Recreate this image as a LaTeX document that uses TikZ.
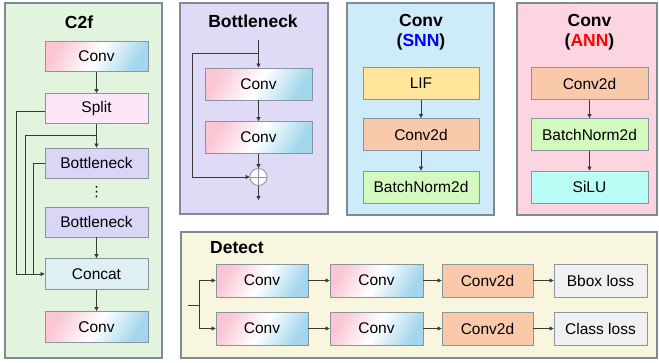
\documentclass[tikz,border=0pt]{standalone}
\usepackage{fontspec}
\setmainfont{Liberation Sans}
\newfontfamily\dejavu{DejaVu Sans}
\usetikzlibrary{arrows.meta,calc}
\definecolor{pC2f}{HTML}{E2F4DD}
\definecolor{pBot}{HTML}{DFDAF6}
\definecolor{pSNN}{HTML}{CDEBF8}
\definecolor{pANN}{HTML}{FDD5E1}
\definecolor{pDet}{HTML}{F8F6DF}
\definecolor{cSplit}{HTML}{FCE6FA}
\definecolor{cBot}{HTML}{DAD6F8}
\definecolor{cConcat}{HTML}{DEF0F3}
\definecolor{cLIF}{HTML}{FFE69B}
\definecolor{cC2d}{HTML}{F9C9AA}
\definecolor{cBN}{HTML}{D4F9BE}
\definecolor{cSiLU}{HTML}{B9FEF6}
\definecolor{cLoss}{HTML}{F0F0F0}
\definecolor{cpink}{HTML}{FAC6D4}
\definecolor{cblue}{HTML}{A2D6EC}
\definecolor{boxborder}{HTML}{8894A0}
\definecolor{panelborder}{HTML}{7F8A95}
\definecolor{linec}{HTML}{3A3A3A}
\definecolor{snnblue}{HTML}{0000FF}
\definecolor{annred}{HTML}{FF0000}
\tikzset{
  box/.style={draw=boxborder, line width=0.8pt, minimum height=31pt, inner sep=0pt, font=\fontsize{15.5}{18}\selectfont},
  convg/.style={box, left color=cpink, right color=cblue, middle color=white, shading angle=60},
  panel/.style={draw=panelborder, line width=1.2pt},
  arr/.style={-{Triangle[length=4pt,width=4pt]}, draw=linec, line width=0.7pt},
  ln/.style={draw=linec, line width=0.7pt},
  ttl/.style={font=\bfseries\fontsize{17.5}{20}\selectfont, inner sep=0pt}
}
\begin{document}
\begin{tikzpicture}[x=1pt,y=-1pt]
\useasboundingbox (0,0) rectangle (659,362);
% panels
\draw[panel, fill=pC2f] (5,3) rectangle (162,358);
\draw[panel, fill=pBot] (180,3) rectangle (328,214);
\draw[panel, fill=pSNN] (347,3) rectangle (494,215);
\draw[panel, fill=pANN] (517,3) rectangle (657,215);
\draw[panel, fill=pDet] (181,232) rectangle (657,358);

% C2f
\node[ttl] (tC2f) at (79,22) {C2f};
\node[convg, minimum width=103pt, minimum height=30pt] (c1) at (96.5,56.5) {Conv};
\node[box, fill=cSplit, minimum width=103pt, minimum height=30pt] (split) at (96.5,108.5) {Split};
\node[box, fill=cBot, minimum width=103pt, minimum height=30pt] (bn1) at (96.5,163) {Bottleneck};
\node[inner sep=0pt, font=\dejavu\fontsize{14}{16}\selectfont] (dots) at (96.5,192) {⋮};
\node[box, fill=cBot, minimum width=103pt, minimum height=30pt] (bn2) at (96.5,222) {Bottleneck};
\node[box, fill=cConcat, minimum width=103pt, minimum height=31pt] (concat) at (96.5,274) {Concat};
\node[convg, minimum width=103pt, minimum height=31pt] (c2) at (96.5,327) {Conv};
\draw[arr] (c1) -- (split);
\draw[arr] (split) -- (bn1);
\draw[arr] (bn2) -- (concat);
\draw[arr] (concat) -- (c2);
\coordinate (tap) at ($(split.south)!0.5!(bn1.north)$);
\coordinate (v1) at (16,0);
\coordinate (v2) at (25,0);
\coordinate (v3) at (33,0);
\draw[ln] ([yshift=-3pt]split.west) -| (v1 |- concat.west);
\draw[ln] (tap) -| (v2 |- concat.west);
\draw[ln] (bn1.west) -| (v3 |- concat.west);
\draw[arr] (v1 |- concat.west) -- (concat.west);

% Bottleneck
\node[ttl] (tBot) at (253,21) {Bottleneck};
\coordinate (bin) at (258.5,40);
\coordinate (bsp) at (258.5,53);
\coordinate (bl) at (192,53);
\node[convg, minimum width=107pt, minimum height=32pt] (b1) at (258.5,84) {Conv};
\node[convg, minimum width=107pt, minimum height=32pt] (b2) at (258.5,137.5) {Conv};
\node[circle, draw=boxborder, fill=white, line width=0.8pt, minimum size=17pt, inner sep=0pt] (plus) at (258.5,177) {};
\draw[boxborder, line width=0.8pt] (plus.north) -- (plus.south) (plus.west) -- (plus.east);
\coordinate (bout) at (258.5,200);
\draw[arr] (bin) -- (b1);
\draw[arr] (b1) -- (b2);
\draw[arr] (b2) -- (plus);
\draw[arr] (bsp) -- (bl) |- (plus.west);
\draw[arr] (plus) -- (bout);

% Conv SNN
\node[ttl] (tSNN1) at (421,20) {Conv};
\node[ttl] (tSNN2) at (421,42) {(\textcolor{snnblue}{SNN})};
\node[box, fill=cLIF, minimum width=116pt, minimum height=32pt] (lif) at (421,83.5) {LIF};
\node[box, fill=cC2d, minimum width=116pt, minimum height=32pt] (s2) at (421,134.5) {Conv2d};
\node[box, fill=cBN, minimum width=116pt, minimum height=32pt] (s3) at (421,187) {BatchNorm2d};
\draw[arr] (lif) -- (s2);
\draw[arr] (s2) -- (s3);

% Conv ANN
\node[ttl] (tANN1) at (589.5,20) {Conv};
\node[ttl] (tANN2) at (589.5,42) {(\textcolor{annred}{ANN})};
\node[box, fill=cC2d, minimum width=117pt, minimum height=32pt] (a1) at (589.5,83.5) {Conv2d};
\node[box, fill=cBN, minimum width=117pt, minimum height=32pt] (a2) at (589.5,134.5) {BatchNorm2d};
\node[box, fill=cSiLU, minimum width=117pt, minimum height=32pt] (a3) at (589.5,187) {SiLU};
\draw[arr] (a1) -- (a2);
\draw[arr] (a2) -- (a3);

% Detect
\node[ttl, anchor=west] (tDet) at (210,248) {Detect};
\node[convg, minimum width=92pt, minimum height=33pt] (d11) at (262,280.5) {Conv};
\node[convg, minimum width=93pt, minimum height=33pt] (d12) at (376.5,280.5) {Conv};
\node[box, fill=cC2d, minimum width=91pt, minimum height=33pt] (d13) at (487.5,280.5) {Conv2d};
\node[box, fill=cLoss, minimum width=93pt, minimum height=33pt] (d14) at (600.5,280.5) {Bbox loss};
\node[convg, minimum width=92pt, minimum height=33pt] (d21) at (262,328.5) {Conv};
\node[convg, minimum width=93pt, minimum height=33pt] (d22) at (376.5,328.5) {Conv};
\node[box, fill=cC2d, minimum width=91pt, minimum height=33pt] (d23) at (487.5,328.5) {Conv2d};
\node[box, fill=cLoss, minimum width=93pt, minimum height=33pt] (d24) at (600.5,328.5) {Class loss};
\coordinate (din) at (188,305);
\coordinate (dj) at (199,305);
\draw[ln] (din) -- (dj);
\draw[arr] (dj) |- (d11.west);
\draw[arr] (dj) |- (d21.west);
\draw[arr] (d11) -- (d12);
\draw[arr] (d12) -- (d13);
\draw[arr] (d13) -- (d14);
\draw[arr] (d21) -- (d22);
\draw[arr] (d22) -- (d23);
\draw[arr] (d23) -- (d24);
\end{tikzpicture}
\end{document}
